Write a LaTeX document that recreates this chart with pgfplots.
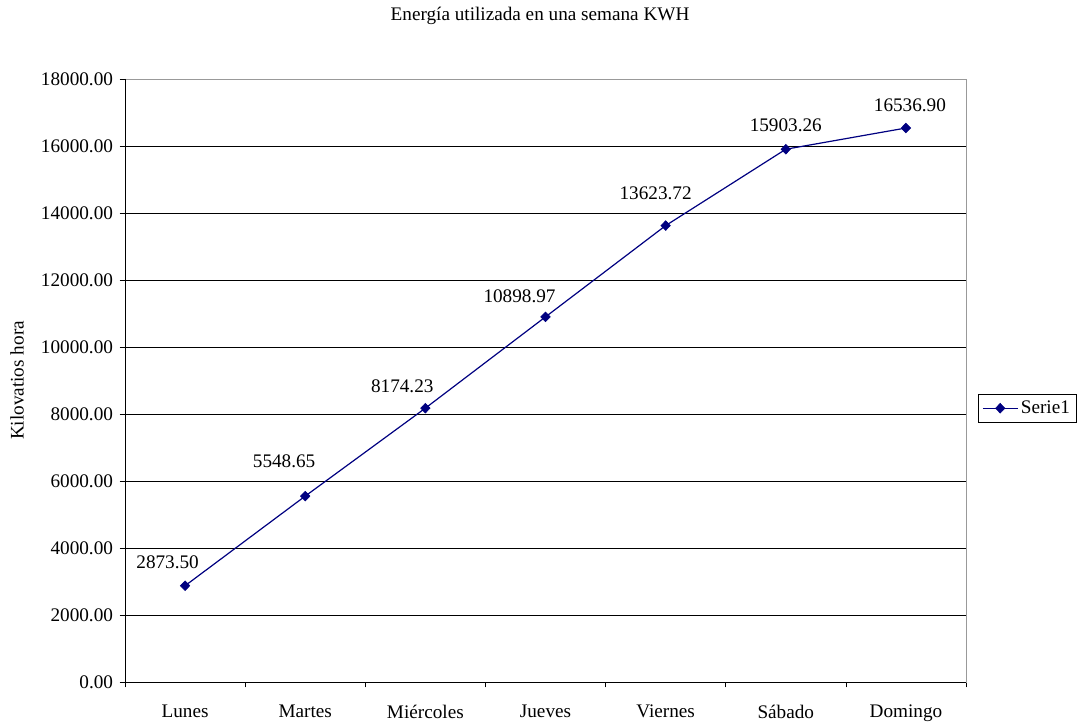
\documentclass[border=0pt]{standalone}
\usepackage{pgfplots}
\pgfplotsset{compat=1.18}
\usepackage{fontspec}
\setmainfont{Liberation Serif}
\definecolor{serie}{RGB}{0,0,128}
\pgfplotstableread{
x y lab dx dy
0 2873.50 2873.50 -13.1 17.3
1 5548.65 5548.65 -15.8 26
2 8174.23 8174.23 -17.3 16.5
3 10898.97 10898.97 -19.5 15.8
4 13623.72 13623.72 -7.5 24
5 15903.26 15903.26 0 18
6 16536.90 16536.90 3 17.3
}\datatable
\begin{document}
\fontsize{14.4}{17}\selectfont
\begin{tikzpicture}
\useasboundingbox (0,0) rectangle (810.75pt,543.75pt);
\begin{axis}[
  at={(93.75pt,32.25pt)}, anchor=south west,
  scale only axis, width=630.75pt, height=452.25pt,
  xmin=-0.5, xmax=6.5, ymin=0, ymax=18000,
  xtick={0,...,6},
  xticklabels={Lunes,Martes,Miércoles,Jueves,Viernes,Sábado,Domingo},
  xticklabel style={yshift=-8pt},
  major x tick style={draw=none},
  minor xtick={-0.5,0.5,...,6.5},
  ytick={0,2000,...,18000},
  tick align=outside, xtick pos=bottom, ytick pos=left,
  major tick length=4pt, minor tick length=4pt,
  tick style={black, thin},
  /pgf/number format/assume math mode=true,
  yticklabel={\pgfmathprintnumber[fixed,fixed zerofill,precision=2,1000 sep={}]{\tick}},
  scaled y ticks=false,
  ymajorgrids, grid style={black, thin},
  axis line style={gray!80, thin},
  ylabel={Kilovatios hora},
  ylabel style={at={(axis description cs:-0.1284,0.5)}, anchor=center},
  title={Energía utilizada en una semana KWH},
  title style={at={(axis description cs:0.4935,1)}, anchor=center, yshift=41pt},
  legend style={at={(1.0143,0.454)}, anchor=west, draw=black, fill=white, inner sep=3pt, legend cell align=left},
  legend image code/.code={\draw[mark repeat=2,mark phase=2] plot coordinates {(0pt,0pt) (13pt,0pt) (26pt,0pt)};},
  clip=false,
]
\addplot[color=serie, line width=0.9pt, mark=diamond*, mark size=3.6pt, mark options={fill=serie, line width=0.5pt, xscale=1.3}]
  table[x=x, y=y] {\datatable};
\addlegendentry{Serie1}
\addplot[draw=none, mark=none, forget plot, nodes near coords,
  point meta=explicit symbolic,
  visualization depends on={\thisrow{dx} \as \ldx},
  visualization depends on={\thisrow{dy} \as \ldy},
  every node near coord/.append style={anchor=center, text=black, inner sep=0pt, xshift=\ldx pt, yshift=\ldy pt}]
  table[x=x, y=y, meta=lab] {\datatable};
\draw[black, thin] (rel axis cs:0,1) -- (rel axis cs:0,0) -- (rel axis cs:1,0);
\end{axis}
\end{tikzpicture}
\end{document}
